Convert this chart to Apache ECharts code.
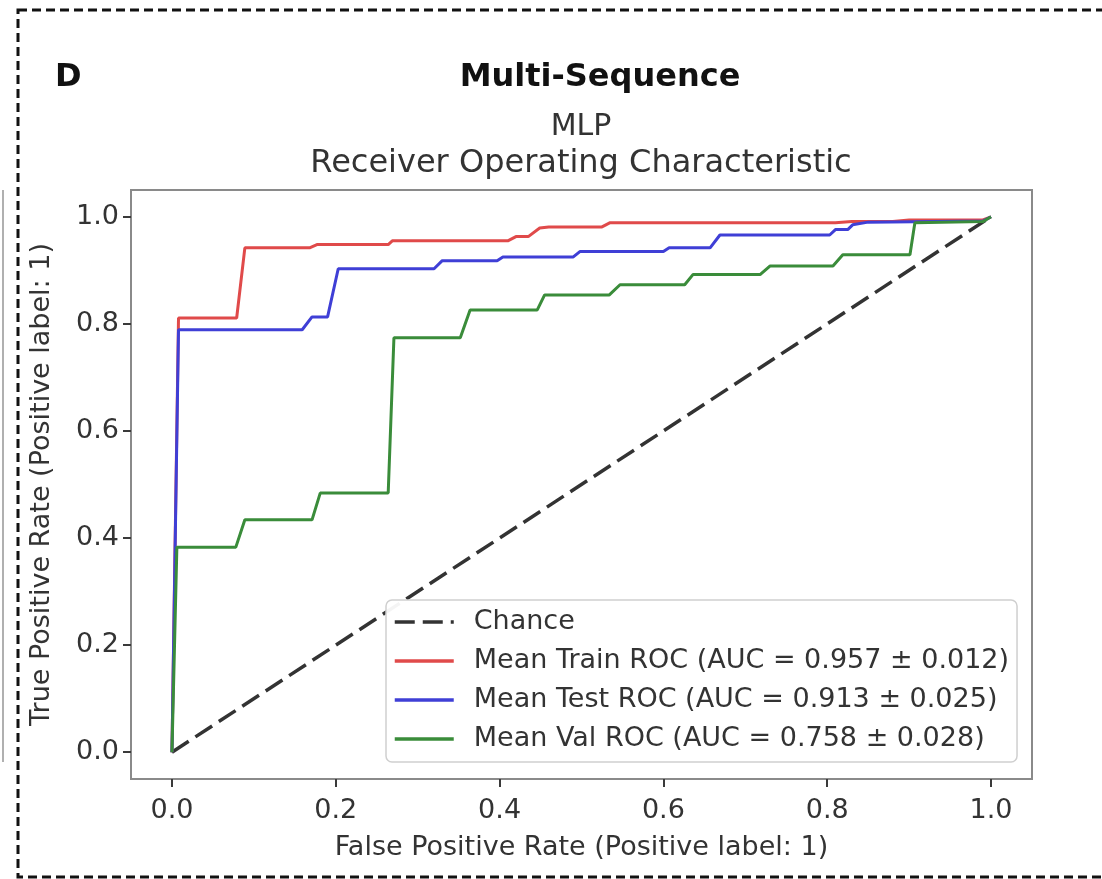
<!DOCTYPE html>
<html>
<head>
<meta charset="utf-8">
<script src="https://cdn.jsdelivr.net/npm/echarts@6/dist/echarts.min.js"></script>
<style>
html,body{margin:0;padding:0;background:#fff;}
#chart{width:1102px;height:879px;}
</style>
</head>
<body>
<div id="chart"></div>
<script>
// ---- data ----
const panelLetter = 'D';
const supTitle = 'Multi-Sequence';
const titleLines = ['MLP', 'Receiver Operating Characteristic'];
const xAxisName = 'False Positive Rate (Positive label: 1)';
const yAxisName = 'True Positive Rate (Positive label: 1)';
const tickValues = [0, 0.2, 0.4, 0.6, 0.8, 1.0];

const seriesNames = [
  'Chance',
  'Mean Train ROC (AUC = 0.957 ± 0.012)',
  'Mean Test ROC (AUC = 0.913 ± 0.025)',
  'Mean Val ROC (AUC = 0.758 ± 0.028)'
];

const chancePts = [[0, 0], [1, 1]];

const trainPts = [
  [0, 0], [0.008, 0.811], [0.079, 0.811], [0.089, 0.942], [0.168, 0.942],
  [0.177, 0.948], [0.264, 0.948], [0.269, 0.955], [0.41, 0.955], [0.42, 0.963],
  [0.435, 0.963], [0.449, 0.979], [0.46, 0.981], [0.525, 0.981], [0.535, 0.989],
  [0.81, 0.989], [0.83, 0.991], [0.88, 0.991], [0.9, 0.994], [0.99, 0.994], [1, 1]
];

const testPts = [
  [0, 0], [0.008, 0.789], [0.159, 0.789], [0.171, 0.813], [0.19, 0.813],
  [0.203, 0.903], [0.32, 0.903], [0.33, 0.918], [0.397, 0.918], [0.404, 0.925],
  [0.49, 0.925], [0.498, 0.935], [0.6, 0.935], [0.607, 0.942], [0.657, 0.942],
  [0.669, 0.966], [0.803, 0.966], [0.81, 0.976], [0.825, 0.976], [0.831, 0.985],
  [0.85, 0.99], [0.99, 0.992], [1, 1]
];

const valPts = [
  [0, 0], [0.006, 0.383], [0.078, 0.383], [0.089, 0.434], [0.171, 0.434],
  [0.181, 0.484], [0.264, 0.484], [0.271, 0.774], [0.352, 0.774], [0.364, 0.826],
  [0.446, 0.826], [0.455, 0.854], [0.534, 0.854], [0.547, 0.873], [0.626, 0.873],
  [0.636, 0.892], [0.718, 0.892], [0.73, 0.908], [0.807, 0.908], [0.819, 0.929],
  [0.901, 0.929], [0.907, 0.989], [0.99, 0.991], [1, 1]
];

// ---- chart ----
const FONT = 'DejaVu Sans';
const chart = echarts.init(document.getElementById('chart'), null, {renderer: 'canvas'});

const seriesData = [chancePts, trainPts, testPts, valPts];
const colors = ['#333333', '#e04a4a', '#3f3fd6', '#3a8c3a'];
const widths = [3.5, 3, 3, 3];

const frameColor = '#8a8a8a';
const tickLine = {color: '#3a3a3a', width: 2};

const option = {
  animation: false,
  backgroundColor: '#ffffff',
  grid: {
    left: 131, right: 70, top: 190, bottom: 100,
    show: true, borderColor: frameColor, borderWidth: 2
  },
  xAxis: [{
    type: 'value', min: -0.05, max: 1.05,
    name: xAxisName, nameLocation: 'middle', nameGap: 55,
    nameTextStyle: {fontFamily: FONT, fontSize: 27, color: '#333'},
    axisLine: {show: true, onZero: false, lineStyle: {color: frameColor, width: 2}},
    splitLine: {show: false},
    axisTick: {show: true, inside: false, length: 8, customValues: tickValues, lineStyle: tickLine},
    axisLabel: {customValues: tickValues, margin: 18, fontFamily: FONT, fontSize: 27, color: '#333',
      formatter: v => v.toFixed(1)}
  }, {
    // tick-only helper axis on the same bottom edge
    type: 'value', min: -0.05, max: 1.05, position: 'bottom',
    axisLine: {show: true, onZero: false, lineStyle: {color: frameColor, width: 2}},
    splitLine: {show: false},
    axisTick: {show: true, inside: false, length: 8, customValues: tickValues, lineStyle: tickLine},
    axisLabel: {show: false}
  }],
  yAxis: [{
    type: 'value', min: -0.05, max: 1.05,
    name: yAxisName, nameLocation: 'middle', nameGap: 76,
    nameTextStyle: {fontFamily: FONT, fontSize: 27, color: '#333'},
    axisLine: {show: true, onZero: false, lineStyle: {color: frameColor, width: 2}},
    splitLine: {show: false},
    axisTick: {show: true, inside: false, length: 8, customValues: tickValues, lineStyle: tickLine},
    axisLabel: {customValues: tickValues, margin: 12, fontFamily: FONT, fontSize: 27, color: '#333',
      formatter: v => v.toFixed(1)}
  }, {
    // tick-only helper axis on the same left edge
    type: 'value', min: -0.05, max: 1.05, position: 'left',
    axisLine: {show: true, onZero: false, lineStyle: {color: frameColor, width: 2}},
    splitLine: {show: false},
    axisTick: {show: true, inside: false, length: 8, customValues: tickValues, lineStyle: tickLine},
    axisLabel: {show: false}
  }],
  legend: {
    orient: 'vertical',
    left: 386, top: 600,
    padding: [7, 8, 8, 7],
    itemWidth: 59, itemHeight: 14, itemGap: 9,
    backgroundColor: 'rgba(255,255,255,0.95)',
    borderColor: '#cfcfcf', borderWidth: 1.5, borderRadius: 6,
    itemStyle: {opacity: 0},
    lineStyle: {width: 3.5},
    textStyle: {fontFamily: FONT, fontSize: 27, color: '#333', lineHeight: 30, padding: [0, 0, 0, 15]},
    data: seriesNames
  },
  series: seriesNames.map((n, i) => ({
    name: n,
    type: 'line',
    xAxisIndex: 0,
    yAxisIndex: 0,
    data: seriesData[i],
    showSymbol: false,
    symbol: 'none',
    smooth: false,
    z: 2 + i,
    lineStyle: {color: colors[i], width: widths[i], type: i === 0 ? [20, 8] : 'solid'},
    itemStyle: {color: colors[i]}
  })),
  graphic: [
    {type: 'rect', silent: true,
      shape: {x: 18, y: 10, width: 1200, height: 867},
      style: {fill: 'none', stroke: '#111', lineWidth: 3, lineDash: [9, 5]}},
    {type: 'line', silent: true,
      shape: {x1: 3, y1: 190, x2: 3, y2: 762},
      style: {stroke: '#b0b0b0', lineWidth: 2}},
    {type: 'text', x: 55, y: 78,
      style: {text: panelLetter, fontFamily: FONT, fontWeight: 'bold', fontSize: 32, fill: '#111',
        align: 'left', verticalAlign: 'middle'}},
    {type: 'text', x: 600, y: 78,
      style: {text: supTitle, fontFamily: FONT, fontWeight: 'bold', fontSize: 32, fill: '#111',
        align: 'center', verticalAlign: 'middle'}},
    {type: 'text', x: 581, y: 127,
      style: {text: titleLines[0], fontFamily: FONT, fontSize: 30, fill: '#333',
        align: 'center', verticalAlign: 'middle'}},
    {type: 'text', x: 581, y: 164,
      style: {text: titleLines[1], fontFamily: FONT, fontSize: 32, fill: '#333',
        align: 'center', verticalAlign: 'middle'}}
  ]
};
chart.setOption(option);
</script>
</body>
</html>
